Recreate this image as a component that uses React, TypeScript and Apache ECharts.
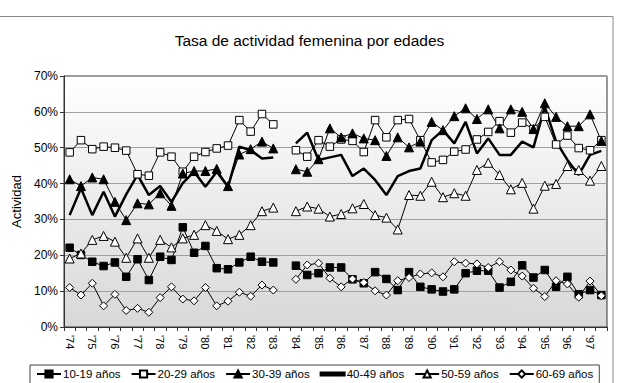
import React, { useEffect, useRef } from "react";
import * as echarts from "echarts";

const YEARS = ["74","75","76","77","78","79","80","81","82","83","84","85","86","87","88","89","90","91","92","93","94","95","96","97"];
const CATEGORIES = YEARS.flatMap((y) => [`'${y}|1`, `'${y}|2`]);
const Y_TICKS_MAX = 70;

const S1019 = [22.1,20.1,18.2,17.0,18.0,14.0,18.9,13.1,19.6,18.7,27.8,20.7,22.6,16.4,16.1,18.0,19.6,18.2,18.0,null,17.1,14.5,15.0,16.6,16.6,13.3,12.2,15.3,13.4,10.3,15.3,11.2,10.5,9.9,10.5,15.0,15.7,15.7,11.0,12.6,17.2,13.8,15.9,11.2,14.0,9.1,10.3,8.9];
const S2029 = [48.7,52.1,49.6,50.3,50.0,49.2,42.6,42.2,48.7,47.5,43.3,47.5,48.8,49.8,50.6,57.7,54.5,59.4,56.5,null,49.3,47.5,52.1,50.3,52.3,51.9,48.8,57.7,52.9,57.7,58.0,52.1,45.9,46.6,48.9,49.5,52.3,54.4,57.4,54.2,57.0,55.2,58.6,50.9,53.4,49.9,49.3,52.1];
const S3039 = [41.2,39.3,41.7,41.2,34.9,29.8,34.5,34.2,37.3,33.8,42.8,43.5,43.5,44.1,39.3,48.1,49.6,51.7,49.8,null,44.0,43.3,46.8,55.4,52.9,54.0,52.6,52.1,47.7,52.9,50.1,51.7,57.2,54.9,58.8,61.0,58.0,60.7,55.4,60.7,60.0,55.2,62.4,58.6,56.0,56.0,59.3,51.9];
const S4049 = [31.2,38.7,31.2,37.7,30.8,37.0,42.4,36.8,39.3,34.9,40.1,43.3,39.1,43.3,39.1,50.3,49.3,47.0,47.3,null,51.2,54.2,46.6,47.3,48.0,42.1,44.2,41.0,36.8,42.1,43.5,44.2,52.1,54.9,51.2,57.2,48.4,52.6,48.0,48.0,51.7,50.1,61.4,51.7,46.6,42.4,48.0,49.1];
const S5059 = [19.1,20.5,24.3,25.4,23.8,19.3,24.7,19.3,24.3,22.2,24.7,25.7,28.4,26.8,24.5,25.7,28.4,32.3,33.3,null,32.3,33.6,33.0,30.8,31.5,33.1,34.3,31.2,30.5,27.2,36.8,36.6,40.5,36.2,37.3,36.6,43.8,45.8,42.4,38.4,40.2,33.0,39.4,39.9,44.9,43.8,40.8,44.9];
const S6069 = [11.0,8.9,12.2,5.9,9.1,4.6,5.2,4.1,8.2,11.2,7.8,7.3,11.0,5.9,7.2,9.7,8.6,11.7,10.3,null,13.3,17.3,17.8,13.6,11.2,13.4,12.4,10.1,8.9,12.9,13.8,14.8,15.1,14.0,18.2,17.8,17.6,16.6,18.2,15.9,14.2,10.8,8.5,12.9,12.0,8.3,12.8,8.7];

const SERIES_NAMES = ["10-19 años","20-29 años","30-39 años","40-49 años","50-59 años","60-69 años"];

export default function App() {
  const ref = useRef<HTMLDivElement>(null);
  useEffect(() => {
    if (!ref.current) return;
    const chart = echarts.init(ref.current, undefined, { renderer: "svg" });
    const font = "Liberation Sans";
    const mk = (name: string, data: (number | null)[], symbol: string, fill: string, size: number, width = 1) => ({
      name,
      type: "line",
      data,
      symbol,
      symbolSize: size,
      showSymbol: symbol !== "none",
      showAllSymbol: true,
      lineStyle: { color: "#000", width },
      itemStyle: { color: fill, borderColor: "#000", borderWidth: 1 },
      emphasis: { disabled: true },
    });
    chart.setOption({
      animation: false,
      backgroundColor: "#fff",
      textStyle: { fontFamily: font },
      title: {
        text: "Tasa de actividad femenina por edades",
        left: "center",
        top: 27,
        textStyle: { fontFamily: font, fontSize: 15.5, fontWeight: "normal", color: "#000" },
      },
      graphic: [
        { type: "rect", shape: { x: -2, y: 16.5, width: 615, height: 380 }, style: { fill: "none", stroke: "#8a8a8a", lineWidth: 1 }, z: 100 },
      ],
      grid: {
        left: 64, right: 12, top: 76, bottom: 56,
        show: true,
        borderColor: "#333",
        borderWidth: 1,
        backgroundColor: new echarts.graphic.LinearGradient(0, 0, 0, 1, [
          { offset: 0, color: "#ffffff" },
          { offset: 1, color: "#d8d8d8" },
        ]),
      },
      xAxis: {
        type: "category",
        data: CATEGORIES,
        boundaryGap: true,
        axisLine: { lineStyle: { color: "#333" } },
        axisTick: { show: true, interval: 0, length: 4, lineStyle: { color: "#333" } },
        axisLabel: {
          interval: 1,
          rotate: -90,
          fontSize: 11,
          color: "#000",
          fontFamily: font,
          margin: 8,
          formatter: (v: string) => v.split("|")[0],
        },
        splitLine: { show: false },
      },
      yAxis: {
        type: "value",
        min: 0,
        max: Y_TICKS_MAX,
        interval: 10,
        name: "Actividad",
        nameLocation: "middle",
        nameGap: 38,
        nameTextStyle: { fontFamily: font, fontSize: 13, color: "#000" },
        axisLine: { show: true, lineStyle: { color: "#333" } },
        axisTick: { show: true, length: 4, lineStyle: { color: "#333" } },
        axisLabel: { formatter: "{value}%", fontSize: 12, color: "#000", fontFamily: font, margin: 6 },
        splitLine: { show: true, lineStyle: { color: "#a0a0a0", width: 1 } },
      },
      legend: {
        bottom: -1,
        left: 30,
        itemWidth: 24,
        itemHeight: 9,
        itemGap: 10,
        padding: [3, 6, 4, 6],
        borderColor: "#444",
        borderWidth: 1,
        textStyle: { fontFamily: font, fontSize: 11.5, color: "#000", padding: [0, 0, 0, -3] },
        data: [
          SERIES_NAMES[0],
          SERIES_NAMES[1],
          SERIES_NAMES[2],
          { name: SERIES_NAMES[3], icon: "path://M0,0L24,0L24,3L0,3Z" },
          SERIES_NAMES[4],
          SERIES_NAMES[5],
        ],
      },
      series: [
        mk(SERIES_NAMES[0], S1019, "rect", "#000", 7.5),
        mk(SERIES_NAMES[1], S2029, "rect", "#fff", 7.5),
        mk(SERIES_NAMES[2], S3039, "triangle", "#000", 9),
        mk(SERIES_NAMES[3], S4049, "none", "#000", 0, 2.5),
        mk(SERIES_NAMES[4], S5059, "triangle", "#fff", 9),
        mk(SERIES_NAMES[5], S6069, "diamond", "#fff", 8),
      ],
    });
    return () => chart.dispose();
  }, []);
  return <div ref={ref} style={{ width: 619, height: 383, position: "absolute", left: 0, top: 0 }} />;
}
